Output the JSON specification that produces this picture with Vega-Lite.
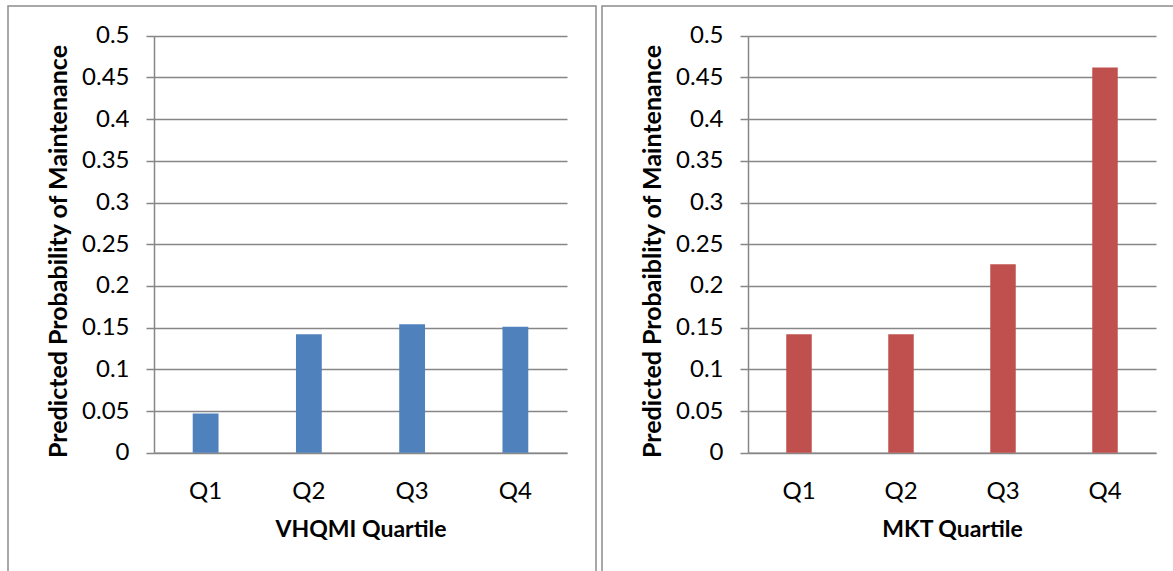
{
  "$schema": "https://vega.github.io/schema/vega-lite/v6.json",
  "padding": {"left": 7, "top": 5, "right": -27, "bottom": -35},
  "spacing": 4,
  "background": "white",
  "config": {
    "font": "Lato",
    "view": {"stroke": "#8c8c8c", "strokeWidth": 1.5},
    "axis": {
      "domainColor": "#868686",
      "domainWidth": 1.5,
      "gridColor": "#868686",
      "gridWidth": 1.5,
      "gridOpacity": 1,
      "tickColor": "#868686",
      "tickWidth": 1.5,
      "labelColor": "#000000",
      "titleColor": "#000000",
      "labelFont": "Lato",
      "titleFont": "Lato",
      "labelFontSize": 24,
      "titleFontSize": 24,
      "titleFontWeight": "bold"
    },
    "axisX": {"titleFontSize": 23},
    "axisY": {"titleFontSize": 25}
  },
  "hconcat": [
    {
      "width": 588,
      "height": 600,
      "data": {"values": [
        {"quartile": "Q1", "p": 0.047},
        {"quartile": "Q2", "p": 0.142},
        {"quartile": "Q3", "p": 0.154},
        {"quartile": "Q4", "p": 0.151}
      ]},
      "mark": {"type": "bar", "color": "#4F81BD"},
      "encoding": {
        "x": {
          "field": "quartile", "type": "nominal", "sort": null,
          "scale": {"range": [146, 559], "paddingInner": 0.75, "paddingOuter": 0.375},
          "axis": {"title": "VHQMI Quartile", "orient": "bottom", "offset": -153.3, "labelAngle": 0,
                   "ticks": false, "tickSize": 0, "labelPadding": 27, "titlePadding": 15, "grid": false}
        },
        "y": {
          "field": "p", "type": "quantitative",
          "scale": {"domain": [0, 0.5], "range": [446.7, 29.7], "nice": false, "zero": true},
          "axis": {"title": "Predicted Probability of Maintenance",
                   "values": [0, 0.05, 0.1, 0.15, 0.2, 0.25, 0.3, 0.35, 0.4, 0.45, 0.5],
                   "format": "~g", "offset": -146, "tickSize": 8, "labelPadding": 17,
                   "titlePadding": 10, "titleY": 245, "grid": true}
        }
      }
    },
    {
      "width": 600,
      "height": 600,
      "data": {"values": [
        {"quartile": "Q1", "p": 0.142},
        {"quartile": "Q2", "p": 0.142},
        {"quartile": "Q3", "p": 0.226},
        {"quartile": "Q4", "p": 0.462}
      ]},
      "mark": {"type": "bar", "color": "#C0504D"},
      "encoding": {
        "x": {
          "field": "quartile", "type": "nominal", "sort": null,
          "scale": {"range": [146, 554], "paddingInner": 0.75, "paddingOuter": 0.375},
          "axis": {"title": "MKT Quartile", "orient": "bottom", "offset": -153.3, "labelAngle": 0,
                   "ticks": false, "tickSize": 0, "labelPadding": 27, "titlePadding": 15, "grid": false}
        },
        "y": {
          "field": "p", "type": "quantitative",
          "scale": {"domain": [0, 0.5], "range": [446.7, 29.7], "nice": false, "zero": true},
          "axis": {"title": "Predicted Probaiblity of Maintenance",
                   "values": [0, 0.05, 0.1, 0.15, 0.2, 0.25, 0.3, 0.35, 0.4, 0.45, 0.5],
                   "format": "~g", "offset": -146, "tickSize": 8, "labelPadding": 17,
                   "titlePadding": 10, "titleY": 245, "grid": true}
        }
      }
    }
  ]
}
